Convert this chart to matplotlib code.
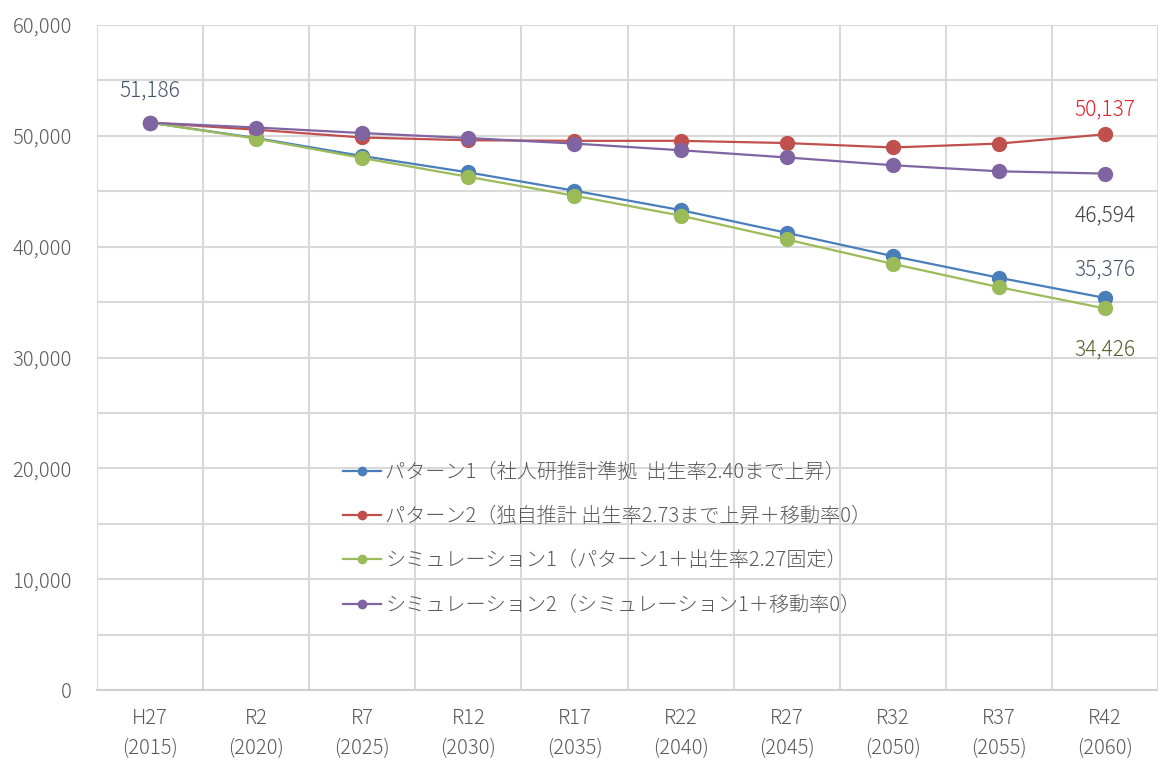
import numpy as np
import matplotlib.pyplot as plt
from matplotlib.lines import Line2D

plt.rcParams['font.family'] = ['Noto Sans CJK JP', 'DejaVu Sans']
plt.rcParams['font.weight'] = 'light'

# category labels
cats = ['H27\n(2015)', 'R2\n(2020)', 'R7\n(2025)', 'R12\n(2030)', 'R17\n(2035)',
        'R22\n(2040)', 'R27\n(2045)', 'R32\n(2050)', 'R37\n(2055)', 'R42\n(2060)']

# series values
pattern1 = [51186, 49800, 48180, 46700, 45050, 43300, 41250, 39150, 37200, 35376]
pattern2 = [51186, 50550, 49850, 49600, 49550, 49550, 49350, 48950, 49300, 50137]
sim1 = [51186, 49750, 48000, 46300, 44600, 42800, 40650, 38450, 36350, 34426]
sim2 = [51186, 50750, 50250, 49800, 49300, 48700, 48050, 47350, 46800, 46594]

names = ['パターン1（社人研推計準拠  出生率2.40まで上昇）',
         'パターン2（独自推計 出生率2.73まで上昇＋移動率0）',
         'シミュレーション1（パターン1＋出生率2.27固定）',
         'シミュレーション2（シミュレーション1＋移動率0）']
colors = ['#4A7EBB', '#C0504D', '#9BBB59', '#8064A2']

fig = plt.figure(figsize=(11.58, 7.61), dpi=100)
ax = fig.add_axes([97 / 1158, 71 / 761, 1 - 97 / 1158, 665 / 761])

x = np.arange(len(cats))
series = [pattern1, pattern2, sim1, sim2]
for vals, col in zip(series, colors):
    ax.plot(x, vals, color=col, lw=1.6, marker='o', ms=10, zorder=3)

ax.set_xlim(-0.5, len(cats) - 0.5)
ax.set_ylim(0, 60000)
ax.set_yticks(np.arange(0, 60001, 10000))
ax.set_yticks(np.arange(0, 60001, 5000), minor=True)
ax.set_yticklabels(['{:,}'.format(v) for v in range(0, 60001, 10000)])
ax.set_xticks(x)
ax.set_xticklabels(cats, linespacing=1.55)
ax.set_xticks(np.arange(-0.5, len(cats)), minor=True)
ax.grid(True, which='minor', axis='both', color='#D9D9D9', lw=1.5)
ax.grid(True, which='major', axis='y', color='#D9D9D9', lw=1.5)
ax.tick_params(which='both', length=0)
ax.tick_params(axis='y', pad=18, labelsize=14.5, labelcolor='#595959')
ax.tick_params(axis='x', pad=13, labelsize=14.5, labelcolor='#595959')
for s in ['top', 'right', 'left']:
    ax.spines[s].set_visible(False)
ax.spines['bottom'].set_color('#D0D0D0')
ax.spines['bottom'].set_linewidth(1.5)
ax.set_axisbelow(True)

# data labels
last = len(cats) - 1
ax.annotate('{:,}'.format(pattern1[0]), (0, pattern1[0]), xytext=(0, 19),
            textcoords='offset points', ha='center', fontsize=15, color='#44546A')
ax.annotate('{:,}'.format(pattern2[last]), (last, pattern2[last]), xytext=(0, 14),
            textcoords='offset points', ha='center', fontsize=15, color='#E0202A')
ax.annotate('{:,}'.format(sim2[last]), (last, sim2[last]), xytext=(0, -34),
            textcoords='offset points', ha='center', fontsize=15, color='#404040')
ax.annotate('{:,}'.format(pattern1[last]), (last, pattern1[last]), xytext=(0, 16),
            textcoords='offset points', ha='center', fontsize=15, color='#44546A')
ax.annotate('{:,}'.format(sim1[last]), (last, sim1[last]), xytext=(0, -34),
            textcoords='offset points', ha='center', fontsize=15, color='#4F6228')

handles = [Line2D([], [], color=c, lw=1.6, marker='o', ms=6) for c in colors]
leg = fig.legend(handles, names, loc='upper left', bbox_to_anchor=(325 / 1158, 1 - 444 / 761),
                 frameon=False, fontsize=14.5, labelspacing=1.15, handlelength=1.9,
                 handletextpad=0.2, labelcolor='#595959')

fig.savefig('out.png', dpi=100)
